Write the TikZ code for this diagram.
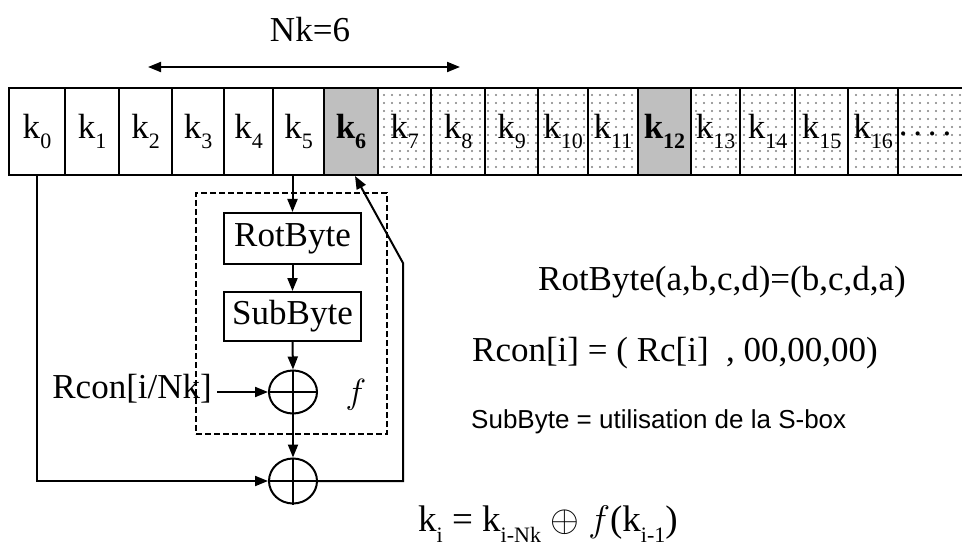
\RequirePackage{fix-cm}
\documentclass[tikz,border=0pt]{standalone}
\usepackage{fontspec}
\setmainfont{Liberation Serif}
\setsansfont{Liberation Sans}
\usetikzlibrary{arrows.meta,patterns.meta,shapes.geometric}
\newcommand\kk[1]{k\raisebox{-0.3em}{\fontsize{22}{22}\selectfont #1}}
\newcommand\kkb[1]{\textbf{k\raisebox{-0.3em}{\fontsize{22}{22}\selectfont #1}}}
\begin{document}
\begin{tikzpicture}[x=1pt,y=-1pt,
  txt/.style={font=\fontsize{35}{40}\selectfont, inner sep=0pt},
  cellbox/.style={draw, line width=2pt, minimum height=87pt, inner sep=0pt, font=\fontsize{35}{40}\selectfont},
  lite/.style={pattern={Dots[radius=1.1pt,distance=8pt]}, pattern color=gray},
  dark/.style={fill=gray!50},
  conn/.style={line width=2pt, -{Triangle[length=13pt,width=10pt]}},
  plain/.style={line width=2pt},
  xorbox/.style={ellipse, draw, line width=2pt, minimum width=48pt, minimum height=43pt, inner sep=0pt},
  opbox/.style={draw, line width=2pt, minimum width=137pt, inner sep=0pt, font=\fontsize{35}{40}\selectfont}
]
\useasboundingbox (0,0) rectangle (962,559);
\fill[white] (0,0) rectangle (962,559);

% Nk=6
\node[txt] (nk) at (310,30) {Nk=6};
\coordinate (nl) at (148,67);
\coordinate (nr) at (460,67);
\draw[plain, {Triangle[length=13pt,width=10pt]}-{Triangle[length=13pt,width=10pt]}] (nl) -- (nr);

% key cells
\node[cellbox, minimum width=56pt] (c0) at (37,131.5) {\kk{0}};
\node[cellbox, minimum width=54pt] (c1) at (92,131.5) {\kk{1}};
\node[cellbox, minimum width=53pt] (c2) at (145.5,131.5) {\kk{2}};
\node[cellbox, minimum width=52pt] (c3) at (198,131.5) {\kk{3}};
\node[cellbox, minimum width=49pt] (c4) at (248.5,131.5) {\kk{4}};
\node[cellbox, minimum width=51pt] (c5) at (298.5,131.5) {\kk{5}};
\node[cellbox, dark, minimum width=54pt] (c6) at (351,131.5) {\kkb{6}};
\node[cellbox, lite, minimum width=53pt] (c7) at (404.5,131.5) {\kk{7}};
\node[cellbox, lite, minimum width=54pt] (c8) at (458,131.5) {\kk{8}};
\node[cellbox, lite, minimum width=53pt] (c9) at (511.5,131.5) {\kk{9}};
\node[cellbox, lite, minimum width=50pt] (c10) at (563,131.5) {\kk{10}};
\node[cellbox, lite, minimum width=50pt] (c11) at (613,131.5) {\kk{11}};
\node[cellbox, dark, minimum width=53pt] (c12) at (664.5,131.5) {\kkb{12}};
\node[cellbox, lite, minimum width=49pt] (c13) at (715.5,131.5) {\kk{13}};
\node[cellbox, lite, minimum width=55pt] (c14) at (767.5,131.5) {\kk{14}};
\node[cellbox, lite, minimum width=53pt] (c15) at (821.5,131.5) {\kk{15}};
\node[cellbox, lite, minimum width=50pt] (c16) at (873,131.5) {\kk{16}};
\node[cellbox, lite, minimum width=84pt] (c17) at (940,131.5) {\hspace*{-30pt}\raisebox{-0.25em}{.\,.\,.\,.}};

% function f box
\node[draw, dash pattern=on 6pt off 3pt, line width=1.8pt, minimum width=191pt, minimum height=241pt, inner sep=0pt] (fb) at (291.5,313.5) {};
\node[opbox, minimum height=51pt] (rot) at (292.5,238.5) {RotByte};
\node[opbox, minimum height=49pt] (sub) at (292.5,316.5) {SubByte};
\node[xorbox] (x1) at (293,392) {};
\node[xorbox, minimum height=45pt] (x2) at (293,481) {};
\draw[plain] (x1.north) -- (x1.south) (x1.west) -- (x1.east);
\draw[plain] (x2.north) -- (x2.south) (x2.west) -- (x2.east);
\node[txt] (fl) at (356,395) {$f$};
\node[txt, anchor=east] (rc) at (212,389) {Rcon[i/Nk]};

% connectors
\draw[conn] (rot.north |- c5.south) -- (rot.north);
\draw[conn] (rot.south) -- (sub.north);
\draw[conn] (sub.south) -- (x1.north);
\draw[conn] ([xshift=5pt]rc.east |- x1.west) -- (x1.west);
\draw[conn] (x1.south) -- (x2.north);
\draw[conn] (c0.south) |- (x2.west);
\coordinate (fk) at (403,263);
\draw[conn] (x2.east) -| (fk) -- ([xshift=4pt]c6.south);

% right side text
\node[txt] (t1) at (722,282) {RotByte(a,b,c,d)=(b,c,d,a)};
\node[txt, anchor=west] (t2) at (472,353) {Rcon[i] = ( Rc[i]\ \ , 00,00,00)};
\node[inner sep=0pt, anchor=west, font=\sffamily\fontsize{26}{30}\selectfont] (t3) at (471,422) {SubByte = utilisation de la S-box};
\node[inner sep=0pt, anchor=base west, font=\fontsize{37}{40}\selectfont] (eq) at (418,531) {\kk{i} = \kk{i-Nk} $\oplus$ $f$(\kk{i-1})};
\end{tikzpicture}
\end{document}
